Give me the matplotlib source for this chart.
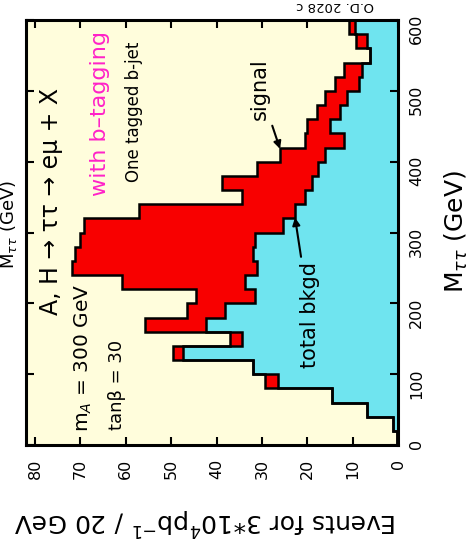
import numpy as np
import matplotlib.pyplot as plt

plt.rcParams['font.family'] = ['DejaVu Sans']

# M_tautau bins, 20 GeV wide
mass_edges = np.arange(0, 620, 20)

# events per bin: total background and A/H signal stacked on top
bkgd = [0.2, 1.0, 6.9, 14.6, 26.4, 31.9, 47.3, 34.4, 42.3, 38.1,
        31.5, 33.7, 31.1, 31.9, 31.5, 25.3, 22.7, 20.5, 19.0, 17.6,
        16.1, 12.0, 15.0, 12.8, 11.3, 8.7, 8.0, 6.2, 6.9, 9.5]
signal = [0, 0, 0, 0, 2.9, 0, 2.2, 2.6, 13.4, 8.4,
          13.0, 27.2, 40.8, 39.2, 38.5, 44.0, 34.5, 13.9, 19.8, 13.5,
          9.9, 8.5, 5.1, 5.1, 4.8, 5.2, 4.0, 0, 2.4, 1.4]

event_ticks = np.arange(0, 90, 10)
mass_ticks = np.arange(0, 700, 100)

bkgd = np.array(bkgd)
total = bkgd + np.array(signal)

W, H = 470, 548
fig = plt.figure(figsize=(W / 100, H / 100), dpi=100)


def fpos(x, y):
    return x / W, 1 - y / H


ax = fig.add_axes([26 / W, 1 - 445 / H, 372 / W, 425 / H])
ax.set_facecolor('#fffddc')

# plot is drawn turned on its side: events run right-to-left, mass upward
ax.stairs(bkgd, mass_edges, orientation='horizontal', baseline=0,
          fill=True, color='#6fe4ef', zorder=1)
ax.stairs(total, mass_edges, orientation='horizontal', baseline=bkgd,
          fill=True, color='#f80000', zorder=2)
ax.stairs(bkgd, mass_edges, orientation='horizontal', baseline=0,
          fill=False, color='black', lw=1.8, zorder=3)
ax.stairs(total, mass_edges, orientation='horizontal', baseline=0,
          fill=False, color='black', lw=1.8, zorder=3)

ax.set_xlim(82, 0)
ax.set_ylim(0, 600)
ax.set_xticks(event_ticks)
ax.set_yticks(mass_ticks)
ax.tick_params(axis='x', direction='in', top=True, bottom=True,
               length=6, width=1.5, labelrotation=90, labelsize=11.5, pad=10)
ax.tick_params(axis='y', direction='in', left=True, right=True,
               labelleft=False, labelright=True,
               length=6, width=1.5, labelrotation=90, labelsize=11.5, pad=8)
for s in ax.spines.values():
    s.set_linewidth(2.2)

# axis titles
fig.text(*fpos(205, 521), 'Events for 3$*$10$^4$pb$^{-1}$ / 20 GeV',
         rotation=180, ha='center', va='center', fontsize=18)
fig.text(*fpos(456, 232), r'M$_{\tau\tau}$ (GeV)',
         rotation=90, ha='center', va='center', fontsize=18)
fig.text(*fpos(9, 225), r'M$_{\tau\tau}$ (GeV)',
         rotation=90, ha='center', va='center', fontsize=13)
fig.text(*fpos(335, 6), 'O.D. 2028 c',
         rotation=180, ha='center', va='center', fontsize=9.5)

# labels inside the frame
fig.text(*fpos(51, 201), 'A, H → ττ → eμ + X',
         rotation=90, ha='center', va='center', fontsize=17)
fig.text(*fpos(100, 114), 'with b–tagging', color='#ff22c8',
         rotation=90, ha='center', va='center', fontsize=16)
fig.text(*fpos(134, 112), 'One tagged b-jet',
         rotation=90, ha='center', va='center', fontsize=12)
fig.text(*fpos(83, 358), 'm$_A$ = 300 GeV',
         rotation=90, ha='center', va='center', fontsize=14.5)
fig.text(*fpos(117, 385), 'tanβ = 30',
         rotation=90, ha='center', va='center', fontsize=13)

ax.annotate('signal', xy=(26.0, 418), xytext=(30.4, 502),
            rotation=90, ha='center', va='center', fontsize=15,
            arrowprops=dict(arrowstyle='-|>', color='black', lw=1.5,
                            mutation_scale=11, shrinkA=2, shrinkB=0))
ax.annotate('total bkgd', xy=(22.7, 321), xytext=(19.4, 183),
            rotation=90, ha='center', va='center', fontsize=15,
            arrowprops=dict(arrowstyle='-|>', color='black', lw=1.5,
                            mutation_scale=11, shrinkA=2, shrinkB=0))

fig.savefig('out.png', dpi=100)
